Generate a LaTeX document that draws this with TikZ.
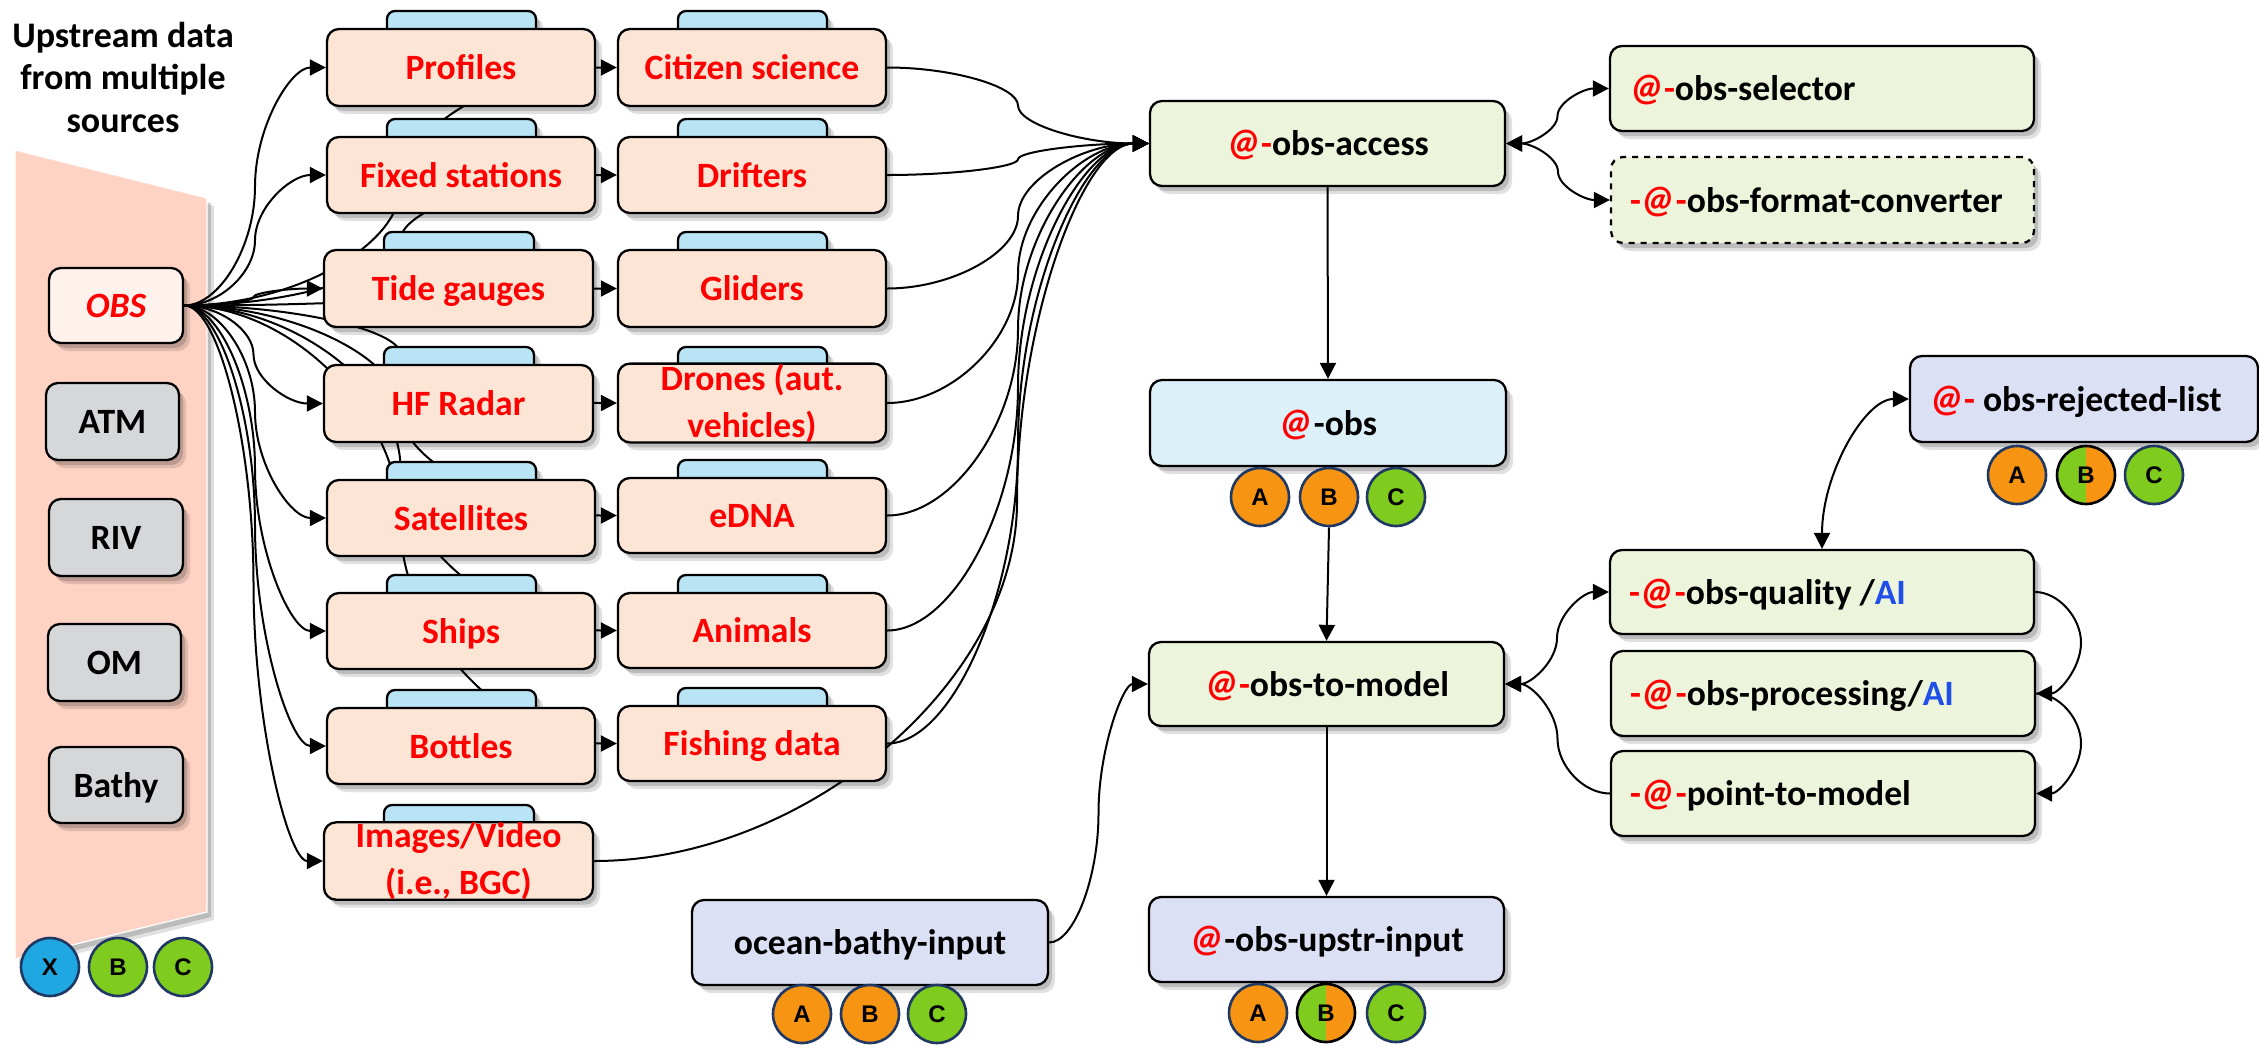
\documentclass[tikz,border=0pt]{standalone}
\usepackage{fontspec}
\setmainfont{Carlito}
\newfontfamily\arl{Liberation Sans}
\usetikzlibrary{arrows.meta,calc,shadows,shapes.geometric}
\definecolor{peach}{HTML}{FCE5D5}
\definecolor{tabblue}{HTML}{B8E4F5}
\definecolor{lgreen}{HTML}{ECF5DB}
\definecolor{lblue}{HTML}{DCF0FA}
\definecolor{lav}{HTML}{DBE0F4}
\definecolor{lgray}{HTML}{D5D7D9}
\definecolor{panelc}{HTML}{FFD3C4}
\definecolor{obsc}{HTML}{FFF1EC}
\definecolor{corange}{HTML}{F79411}
\definecolor{cgreen}{HTML}{7FCB1E}
\definecolor{cblue}{HTML}{1EA7E1}
\definecolor{cnavy}{HTML}{1F3864}
\definecolor{aiblue}{HTML}{1F4FE8}
\pgfdeclarelayer{panel}
\pgfdeclarelayer{conn}
\pgfsetlayers{panel,conn,main}
\tikzset{
  softshadow/.style={
    drop shadow={shadow xshift=2pt,shadow yshift=-2.5pt,fill=black,opacity=.16},
    drop shadow={shadow xshift=3.5pt,shadow yshift=-4pt,fill=black,opacity=.12}},
  basebox/.style={rectangle,rounded corners=6pt,draw=black,line width=1.15pt,inner sep=0pt,softshadow,
    font=\fontsize{17.8}{23.5}\selectfont\bfseries},
  oneline/.style={text height=12pt,text depth=0pt},
  twoline/.style={align=center},
  redbox/.style={basebox,oneline,fill=peach,text=red},
  redtwo/.style={basebox,twoline,fill=peach,text=red},
  tabbox/.style={basebox,fill=tabblue,rounded corners=4pt},
  greenbox/.style={basebox,oneline,fill=lgreen},
  dashbox/.style={greenbox,dashed},
  bluebox/.style={basebox,oneline,fill=lblue},
  lavbox/.style={basebox,oneline,fill=lav},
  graybox/.style={basebox,oneline,fill=lgray},
  obsbox/.style={basebox,oneline,fill=obsc,text=red},
  badge/.style={circle,draw=cnavy,line width=1.3pt,inner sep=0pt,minimum size=29pt,
    font=\arl\fontsize{12}{14}\selectfont\bfseries},
  splitbadge/.style={badge,draw=black,path picture={
    \fill[cgreen] (path picture bounding box.south west) rectangle (path picture bounding box.north);
    \fill[corange] (path picture bounding box.south) rectangle (path picture bounding box.north east);}},
  conn/.style={draw=black,line width=1pt,-{Triangle[length=8pt,width=8pt]}},
  both/.style={draw=black,line width=1pt,{Triangle[length=8pt,width=8pt]}-{Triangle[length=8pt,width=8pt]}},
  titletext/.style={font=\fontsize{18}{21.25}\selectfont\bfseries,align=center,inner sep=0pt}
}
\newcommand{\boxn}[7][]{%
  \pgfmathsetmacro\bw{(#4-#2)*0.5}\pgfmathsetmacro\bh{(#5-#3)*0.5}%
  \node[#6,minimum width=\bw pt,minimum height=\bh pt,#1] (#7) at ({(#2+#4)/2},{(#3+#5)/2})}
\newcommand{\conn}[3][conn]{\begin{pgfonlayer}{conn}\draw[#1] let \p1=(#2),\p2=(#3),\n1={(\x1+\x2)/2} in (\p1) .. controls ({(\x1+\n1)/2},\y1) and (\n1,{\y1+(\y2-\y1)/4}) .. (\n1,{(\y1+\y2)/2}) .. controls (\n1,{\y1+3*(\y2-\y1)/4}) and ({(\x2+\n1)/2},\y2) .. (\p2);\end{pgfonlayer}}
\newcommand{\connm}[4][conn]{\begin{pgfonlayer}{conn}\draw[#1] let \p1=(#2),\p2=(#3),\n1={#4*0.5pt} in (\p1) .. controls ({(\x1+\n1)/2},\y1) and (\n1,{\y1+(\y2-\y1)/4}) .. (\n1,{(\y1+\y2)/2}) .. controls (\n1,{\y1+3*(\y2-\y1)/4}) and ({(\x2+\n1)/2},\y2) .. (\p2);\end{pgfonlayer}}
\newcommand{\mya}{{\color{red}\fontsize{19.5}{20}\selectfont\itshape @}}
\newcommand{\rd}[1]{{\color{red}#1}}
\newcommand{\lft}[2]{\makebox[#1pt][l]{\hspace{9.5pt}#2}}
\begin{document}
\begin{tikzpicture}[x=0.5pt,y=-0.5pt]
\useasboundingbox (0,0) rectangle (2259,1045);
\begin{pgfonlayer}{panel}
\path[fill=panelc,draw=white,line width=.6pt,softshadow] (15,150) -- (207,198) -- (207,912) -- (15,959) -- cycle;
\end{pgfonlayer}
\node[titletext] (title) at (123,77) {Upstream data\\from multiple\\sources};
% tabs
\boxn{387}{11}{536}{36}{tabbox}{t1} {};
\boxn{387}{119}{536}{144}{tabbox}{t2} {};
\boxn{384}{232}{534}{257}{tabbox}{t3} {};
\boxn{384}{347}{534}{372}{tabbox}{t4} {};
\boxn{387}{462}{536}{487}{tabbox}{t5} {};
\boxn{387}{575}{536}{600}{tabbox}{t6} {};
\boxn{387}{690}{536}{715}{tabbox}{t7} {};
\boxn{384}{805}{534}{830}{tabbox}{t8} {};
\boxn{678}{11}{827}{36}{tabbox}{u1} {};
\boxn{678}{119}{827}{144}{tabbox}{u2} {};
\boxn{678}{232}{827}{257}{tabbox}{u3} {};
\boxn{678}{347}{827}{372}{tabbox}{u4} {};
\boxn{678}{460}{827}{485}{tabbox}{u5} {};
\boxn{678}{575}{827}{600}{tabbox}{u6} {};
\boxn{678}{688}{827}{713}{tabbox}{u7} {};
% left column
\boxn{327}{29}{595}{106}{redbox}{profiles} {Profiles};
\boxn{327}{137}{595}{213}{redbox}{fixed} {Fixed stations};
\boxn{324}{250}{593}{327}{redbox}{tide} {Tide gauges};
\boxn{324}{365}{593}{442}{redbox}{hf} {HF Radar};
\boxn{327}{480}{595}{556}{redbox}{sat} {Satellites};
\boxn{327}{593}{595}{669}{redbox}{ships} {Ships};
\boxn{327}{708}{595}{784}{redbox}{bottles} {Bottles};
\boxn{324}{823}{593}{899}{redtwo}{images} {Images/Video\\(i.e., BGC)};
% right column
\boxn{618}{29}{886}{106}{redbox}{citizen} {Citizen science};
\boxn{618}{137}{886}{213}{redbox}{drifters} {Drifters};
\boxn{618}{250}{886}{327}{redbox}{gliders} {Gliders};
\boxn{618}{365}{886}{441}{redtwo}{drones} {Drones (aut.\\vehicles)};
\boxn{618}{478}{886}{553}{redbox}{edna} {eDNA};
\boxn{618}{593}{886}{668}{redbox}{animals} {Animals};
\boxn{618}{706}{886}{781}{redbox}{fishing} {Fishing data};
% panel boxes
\boxn{49}{268}{183}{343}{obsbox}{obs} {\itshape OBS};
\boxn{46}{383}{179}{460}{graybox}{atm} {ATM};
\boxn{49}{499}{183}{576}{graybox}{riv} {RIV};
\boxn{48}{624}{181}{701}{graybox}{om} {OM};
\boxn{49}{747}{183}{823}{graybox}{bathy} {Bathy};
% central
\boxn{1150}{101}{1505}{186}{greenbox}{access} {\mya\rd{-}obs-access};
\boxn{1150}{380}{1506}{466}{bluebox}{obsn} {\mya-obs};
\boxn{1149}{642}{1504}{726}{greenbox}{model} {\mya\rd{-}obs-to-model};
\boxn{1149}{897}{1504}{982}{lavbox}{upstr} {\mya-obs-upstr-input};
\boxn{692}{900}{1048}{985}{lavbox}{ocean} {ocean-bathy-input};
% right side
\boxn{1610}{46}{2034}{131}{greenbox}{selector} {\lft{212}{\mya\rd{-}obs-selector}};
\boxn{1611}{157}{2034}{243}{dashbox}{converter} {\lft{211.5}{\rd{-}\mya\rd{-}obs-format-converter}};
\boxn{1910}{356}{2258}{442}{lavbox}{rejected} {\lft{174}{\mya\rd{-} obs-rejected-list}};
\boxn{1610}{550}{2034}{634}{greenbox}{quality} {\lft{212}{\rd{-}\mya\rd{-}obs-quality /{\color{aiblue}AI}}};
\boxn{1611}{651}{2035}{736}{greenbox}{processing} {\lft{212}{\rd{-}\mya\rd{-}obs-processing/{\color{aiblue}AI}}};
\boxn{1611}{751}{2035}{836}{greenbox}{point} {\lft{212}{\rd{-}\mya\rd{-}point-to-model}};
% badges
\node[badge,fill=cblue] (px) at (50,967) {X};
\node[badge,fill=cgreen] (pb) at (118,967) {B};
\node[badge,fill=cgreen] (pc) at (183,967) {C};
\node[badge,fill=corange] (oa) at (1260,497) {A};
\node[badge,fill=corange] (ob) at (1329,497) {B};
\node[badge,fill=cgreen] (oc) at (1396,497) {C};
\node[badge,fill=corange] (ua) at (1258,1013) {A};
\node[splitbadge] (ub) at (1326,1013) {B};
\node[badge,fill=cgreen] (uc) at (1396,1013) {C};
\node[badge,fill=corange] (ba) at (802,1014) {A};
\node[badge,fill=corange] (bb) at (870,1014) {B};
\node[badge,fill=cgreen] (bc) at (937,1014) {C};
\node[badge,fill=corange] (ra) at (2017,475) {A};
\node[splitbadge] (rb) at (2086,475) {B};
\node[badge,fill=cgreen] (rc) at (2154,475) {C};
% connectors from OBS
\foreach \t in {profiles,fixed,tide,hf,sat,ships,bottles,images,citizen,drifters,gliders,drones,edna,animals,fishing}{
  \conn{obs.east}{\t.west}
}
% connectors to access
\foreach \t in {citizen,drifters,gliders,drones,edna,animals,fishing}{
  \conn{\t.east}{access.west}
}
\connm{images.east}{access.west}{1017}
\conn{ocean.east}{model.west}
\conn[both]{access.east}{selector.west}
\conn[both]{access.east}{converter.west}
\conn[both]{model.east}{quality.west}
\conn{point.west}{model.east}
\connm{quality.east}{processing.east}{2081}
\connm{processing.east}{point.east}{2081}
\begin{pgfonlayer}{conn}
\draw[conn] (access.south) -- (obsn.north);
\draw[conn] (ob.south) -- (model.north);
\draw[conn] (model.south) -- (upstr.north);
\draw[both] (quality.north) .. controls +(0,-75) and +(-44,0) .. (rejected.west);
\end{pgfonlayer}
\end{tikzpicture}
\end{document}
